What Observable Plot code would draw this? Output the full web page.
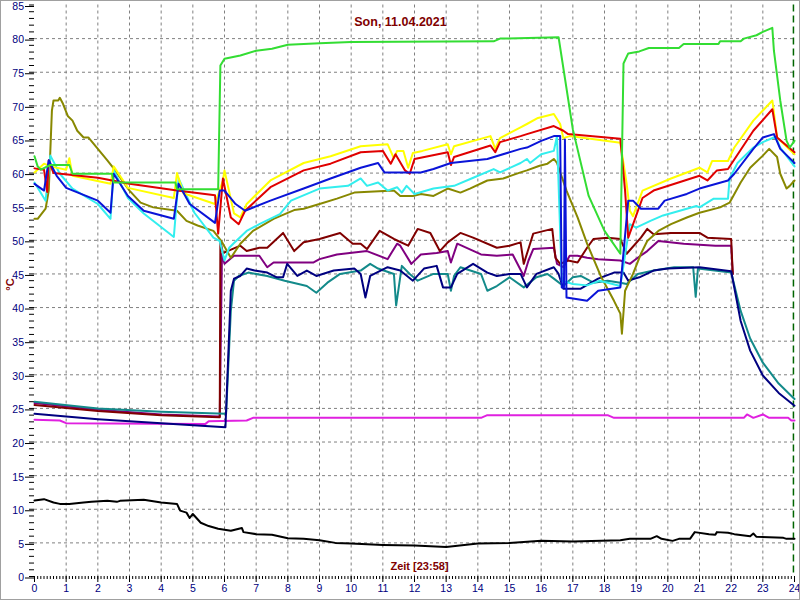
<!DOCTYPE html>
<html><head><meta charset="utf-8">
<script src="https://cdn.jsdelivr.net/npm/d3@7"></script>
<script src="https://cdn.jsdelivr.net/npm/@observablehq/plot@0.6"></script>
<style>
body{margin:0;background:#fff;}
#wrap{position:relative;width:800px;height:600px;overflow:hidden;background:#fff;}
#border{position:absolute;left:0;top:0;width:800px;height:600px;box-sizing:border-box;border:1px solid #a0a0a0;pointer-events:none;}
</style></head><body><div id="wrap"><div id="border"></div></div>
<script>
const titleText = "Son, 11.04.2021";
const xLabelText = "Zeit [23:58]";
const yLabelText = "°C";
const hourTicks = [0,1,2,3,4,5,6,7,8,9,10,11,12,13,14,15,16,17,18,19,20,21,22,23,24];
const tempTicks = [0,5,10,15,20,25,30,35,40,45,50,55,60,65,70,75,80,85];
const nowMarker = [23 + 58/60];

const green = [[0,62.5],[0.1,61],[0.2,60.5],[0.5,61.2],[1.1,61.2],[1.2,59.9],[2.45,59.9],[2.5,58.6],[4.45,58.6],[4.5,57.6],[5.8,57.6],[5.87,76],[6.0,77],[6.5,77.5],[7.0,78.2],[7.5,78.5],[8.0,79.1],[9.0,79.3],[10.0,79.5],[14.5,79.6],[14.7,80],[16.55,80.2],[17.0,66.5],[17.5,56.6],[18.0,51.4],[18.5,48],[18.6,76.3],[18.75,77.8],[19.1,78.1],[19.4,78.6],[20.35,78.6],[20.5,79.2],[21.6,79.2],[21.65,79.6],[22.3,79.6],[22.4,80],[22.8,80.5],[23.0,81],[23.3,81.6],[23.35,78.2],[23.55,70.8],[23.75,64.8],[23.85,63.8],[24,64.8]];
const yellow = [[0,60.1],[0.3,61.4],[0.5,61],[1.0,60.5],[1.1,62.2],[1.2,59.6],[2.4,58.4],[2.5,61],[2.95,57.8],[4.4,56.3],[4.5,60],[4.7,57],[5.7,55.4],[5.95,58.9],[6.0,60.4],[6.3,54],[6.5,53.4],[6.7,55.4],[7.45,58.9],[8.5,61.5],[9.35,62.5],[10.3,64],[11.15,64.3],[11.35,62.2],[11.45,63.3],[11.65,63.3],[11.8,60.8],[11.95,63],[12.25,63.3],[13.05,64.3],[13.15,62.8],[13.25,64],[14.4,65.5],[14.55,63.6],[14.7,65.2],[15.35,66.8],[15.55,67.3],[15.9,68.2],[16.4,68.8],[16.6,67.3],[16.7,65.2],[16.9,65.5],[18.5,64.5],[18.7,58.4],[18.8,54.4],[18.9,53.6],[19.2,57.4],[20.1,59.2],[21.0,60.8],[21.25,60.1],[21.4,61.8],[21.9,61.8],[22.1,63.8],[22.7,67.8],[23.3,70.8],[23.45,65.3],[24,62.8]];
const red = [[0,60.7],[0.3,60.5],[0.4,57.2],[0.45,61.9],[0.6,60],[2.0,59.3],[3.0,58.4],[4.5,57.4],[5.7,56.7],[5.8,51],[5.95,59.2],[6.2,53.4],[6.45,52.4],[6.65,54.4],[7.45,57.9],[8.5,60.4],[9.35,61.4],[10.3,63.1],[11.0,63.3],[11.25,61.4],[11.4,62.8],[11.7,60.4],[11.85,59.9],[12.0,62.1],[13.05,63.1],[13.15,61.2],[13.25,62.4],[14.4,64.1],[14.55,63.1],[14.7,64.6],[15.35,65.5],[15.55,65.8],[16.4,67],[16.7,66.3],[16.85,65.8],[18.5,65.1],[18.65,57.4],[18.75,50.4],[19.2,56.3],[19.55,57.4],[21.0,59.6],[21.25,58.9],[21.55,60.4],[21.9,60.6],[22.7,66.3],[23.3,69.5],[23.45,65.3],[24,63.1]];
const blue = [[0,58.4],[0.3,57.4],[0.45,61.9],[0.7,59.6],[1.0,57.8],[2.0,55.9],[2.4,54.1],[2.5,59.9],[2.95,56.6],[3.45,54.4],[4.4,53.2],[4.55,58.4],[4.9,55.4],[5.7,52.6],[5.85,57.4],[6.0,57.4],[6.35,55.4],[6.65,54.4],[7.45,55.9],[8.5,57.7],[9.35,59.2],[10.3,60.8],[10.85,61.5],[11.05,60.1],[12.2,60.1],[12.6,60.6],[13.15,61.5],[14.3,62.1],[15.35,63.6],[15.55,63.8],[16.0,64.8],[16.4,65.5],[16.6,65.5],[16.65,43],[16.72,43],[16.75,65],[16.8,41.5],[17.45,41],[17.8,42.5],[18.5,43],[18.75,55.9],[18.9,55.9],[19.15,54.7],[19.7,54.7],[19.9,55.9],[20.6,56.9],[21.0,57.7],[21.9,58.9],[22.1,59.9],[22.7,63.6],[23.0,65.3],[23.35,65.8],[23.55,63.6],[24,61.5]];
const cyan = [[0,58.6],[0.35,55.9],[0.5,62.6],[0.8,59.9],[1.2,57.7],[2.0,55.4],[2.4,53.2],[2.5,60.4],[2.95,56.3],[3.45,54],[4.4,50.5],[4.55,59.2],[5.05,54.1],[5.65,50.4],[5.85,49.9],[6.0,47],[6.15,48.9],[6.3,49.6],[6.7,51.4],[7.1,52.4],[7.75,53.9],[8.1,55.9],[9.0,57.7],[9.9,58.1],[10.3,59.2],[10.5,58.1],[10.85,58.6],[11.15,57.4],[11.45,57.9],[11.6,57.1],[11.75,58.1],[12.0,56.9],[12.6,57.7],[13.25,58.1],[13.8,59.2],[14.5,60.6],[14.7,60.1],[15.35,61.5],[15.55,62.1],[15.65,61.5],[16.0,62.8],[16.4,63.3],[16.5,65.5],[16.65,44],[17.0,43.5],[17.45,43.3],[17.85,44],[18.5,43.2],[18.8,52.4],[19.0,51.9],[19.45,52.9],[19.85,53.7],[20.6,54.7],[20.9,55.1],[21.0,54.9],[21.45,56.2],[21.9,56.2],[21.95,59.2],[22.2,61.5],[22.7,63.8],[23.0,64.6],[23.4,65.4],[23.55,63.8],[24,61]];
const olive = [[0,53.2],[0.1,53.2],[0.35,54.7],[0.45,57.4],[0.5,63.3],[0.55,69.3],[0.6,70.8],[0.75,70.8],[0.8,71.2],[0.9,70.3],[1.05,68.5],[1.2,67.8],[1.35,66.3],[1.55,65.3],[1.7,65.3],[2.0,63.6],[2.3,61.9],[2.5,60.7],[3.0,57.4],[3.35,55.6],[3.75,54.9],[4.5,54.4],[4.8,52.9],[5.15,52.2],[5.65,51.4],[5.9,49.9],[6.2,47.4],[6.5,49.5],[6.9,51.4],[7.55,53.2],[8.2,54.5],[8.5,54.7],[9.0,55.4],[9.55,56.2],[10.1,57.1],[11.35,57.4],[11.55,56.6],[11.95,56.6],[12.2,56.9],[12.6,56.6],[13.05,57.7],[13.45,57.1],[13.75,57.7],[14.3,58.9],[14.8,59.2],[15.35,60.1],[15.55,60.4],[15.95,61.1],[16.2,61.4],[16.4,62.1],[16.5,61.5],[16.8,57.4],[17.15,53.4],[17.45,49.5],[17.9,44.5],[18.3,41],[18.5,39.1],[18.55,36.1],[18.65,42.5],[18.9,45],[19.15,48],[19.35,49.9],[19.7,51.4],[20.1,52.4],[20.6,53.4],[21.0,54.1],[21.65,54.9],[21.95,55.6],[22.3,58.6],[22.6,60.8],[23.0,62.6],[23.2,63.6],[23.45,62.4],[23.55,59.9],[23.75,57.7],[23.85,58.1],[24,58.9]];
const maroon = [[0,25.5],[2,24.6],[4,24],[5.85,23.7],[5.87,49.9],[5.95,48.1],[6.5,49.2],[6.7,48.4],[7.1,48.9],[7.35,48.9],[7.85,51.1],[8.2,48.4],[8.5,49.7],[9.0,50.2],[9.65,51.1],[10.05,49.5],[10.3,49.5],[10.5,48.7],[10.9,51.4],[11.35,50.2],[11.8,49.2],[12.1,51.7],[12.5,51.1],[12.8,48.4],[13.05,49.7],[13.45,51.1],[13.85,50.4],[14.6,48.9],[15.0,49.2],[15.35,49.7],[15.45,46.5],[15.65,49.5],[15.75,51],[16.35,51.7],[16.45,47.4],[16.6,46.5],[16.85,47],[17.15,46.7],[17.45,48.9],[17.65,50.2],[18.1,50.4],[18.5,50.2],[18.7,48],[19.15,50.4],[19.35,51.7],[19.55,50.9],[20.1,51.1],[21.0,51.1],[21.25,50.4],[22.0,50.2],[22.05,45]];
const purple = [[0,25.8],[2,24.8],[4,24.1],[5.85,23.8],[5.92,48],[6.0,46.5],[6.3,47.7],[7.1,47.7],[7.35,46],[7.55,46.7],[8.8,46.7],[9.0,47.2],[9.55,47.9],[10.5,48.4],[11.15,47.2],[11.45,49.5],[11.55,49.2],[11.9,46.5],[12.2,47.9],[12.7,48.1],[13.05,48.4],[13.15,46.7],[13.35,49.5],[14.1,47.9],[14.6,47.7],[15.1,47.9],[15.45,44.7],[15.6,47],[15.75,48.7],[16.4,48.9],[16.5,46.5],[16.7,46],[16.9,47.7],[17.15,47.7],[17.45,47.4],[17.8,47.2],[18.5,47],[18.8,46.5],[19.05,47.4],[19.35,48.4],[19.7,49.9],[20.5,49.5],[21.5,49.2],[22.0,49.2],[22.05,45]];
const navy = [[0,24.2],[2,23.4],[4,22.8],[6.03,22.2],[6.2,42.5],[6.3,44.3],[6.5,44.7],[6.7,45.8],[6.95,45.5],[7.35,45.2],[7.65,44.5],[7.85,44.5],[7.98,46.5],[8.3,44.7],[8.6,45.5],[8.9,44.7],[9.45,45.5],[10.1,45.8],[10.3,45],[10.45,41.5],[10.6,44.7],[11.15,46],[11.55,45.5],[11.95,44],[12.3,45.8],[12.7,46.2],[12.9,43],[13.15,43],[13.35,45],[13.85,46.5],[14.3,45.2],[14.6,44.7],[15.0,45],[15.35,45],[15.55,43],[15.85,45],[16.4,46],[16.55,45],[16.7,42.8],[17.25,42.8],[17.8,44.3],[18.3,45.2],[18.6,45.2],[18.75,44],[19.1,44.5],[19.55,45.5],[20.0,45.8],[21.0,46],[22.0,45.4],[22.3,38],[22.6,33.6],[23.0,29.9],[23.5,27.3],[24,25.4]];
const teal = [[0,26],[2,25],[4,24.5],[6.05,24.2],[6.2,39.5],[6.3,44],[6.45,44.7],[6.75,45.2],[7.35,44.7],[7.9,44],[8.6,43.2],[8.9,42.2],[9.25,43.7],[9.65,45],[10.3,45.5],[10.6,46.5],[10.85,45.8],[11.35,45],[11.42,40.3],[11.6,46.2],[11.85,45],[12.1,44],[12.6,45],[13.05,45],[13.15,42.5],[13.25,44.7],[13.45,46],[14.1,45],[14.3,42.5],[14.6,43.2],[15.0,44.5],[15.45,43],[15.85,44.5],[16.2,45],[16.4,44.3],[16.7,43.2],[17.0,44.5],[17.25,44.7],[17.65,43.7],[18.1,44],[18.5,43.7],[18.7,43.5],[19.05,45],[19.55,45.5],[20.2,46],[20.8,46],[20.88,41.6],[20.95,45.8],[22.0,45.2],[22.3,39.5],[22.6,35.4],[23.0,31.8],[23.5,28.7],[24,26.4]];
const magenta = [[0,23.3],[0.8,23.2],[1.0,22.8],[5.4,22.7],[5.5,23.1],[6.7,23.2],[6.9,23.6],[14.1,23.6],[14.3,24.0],[18.1,24.0],[18.3,23.6],[22.4,23.6],[22.5,24.1],[22.7,23.6],[23.0,24.1],[23.2,23.6],[23.8,23.6],[23.9,23.2],[24,23.2]];
const black = [[0,11.3],[0.3,11.5],[0.6,11],[0.8,10.8],[1.1,10.8],[1.55,11],[1.8,11.1],[2.3,11.25],[2.6,11.1],[2.7,11.25],[3.45,11.4],[4.0,11],[4.5,10.8],[4.6,9.8],[4.8,9.5],[4.9,8.7],[5.0,9.3],[5.25,8],[5.5,7.5],[5.8,7.1],[6.2,6.8],[6.55,7.2],[6.6,6.6],[7.0,6.3],[7.5,6.2],[8.0,5.7],[8.5,5.6],[9.0,5.4],[9.5,5],[10.0,4.9],[11.0,4.7],[12.0,4.6],[13.0,4.4],[14.0,4.9],[15.0,5],[16.0,5.3],[17.0,5.2],[17.9,5.3],[18.5,5.4],[18.8,5.6],[19.45,5.6],[19.65,6],[19.8,5.6],[20.15,5.3],[20.35,5.6],[20.7,5.6],[20.85,6.6],[21.3,6.3],[21.5,6.2],[21.55,6.6],[21.9,6.5],[22.1,6.3],[22.6,6],[22.7,6.4],[22.8,5.9],[23.65,5.75],[23.75,5.6],[24,5.6]];

const seriesList = [
  {data: magenta, color: "#e020e0"},
  {data: black, color: "#000000"},
  {data: purple, color: "#800080"},
  {data: maroon, color: "#800000"},
  {data: teal, color: "#138a8a"},
  {data: navy, color: "#000080"},
  {data: olive, color: "#888800"},
  {data: cyan, color: "#33eeee"},
  {data: yellow, color: "#ffff00"},
  {data: red, color: "#e00000"},
  {data: blue, color: "#0a14d8"},
  {data: green, color: "#33dd33"}
];

const font = "'Liberation Sans', Arial, sans-serif";
const chart = Plot.plot({
  width: 800, height: 600,
  marginLeft: 34, marginRight: 6, marginTop: 4.5, marginBottom: 24,
  style: {background: "white", fontFamily: font, overflow: "visible"},
  x: {domain: [0, 24], label: null},
  y: {domain: [0, 85], label: null},
  marks: [
    Plot.gridX(hourTicks.slice(1, -1), {stroke: "#808080", strokeOpacity: 1, strokeDasharray: "3,3"}),
    Plot.gridY(tempTicks.slice(1, -1), {stroke: "#808080", strokeOpacity: 1, strokeDasharray: "3,3"}),
    Plot.axisY(d3.range(0, 86, 1), {tickSize: 5, text: null, stroke: "#000", label: null}),
    Plot.axisY(tempTicks, {tickSize: 9, tickPadding: 1.5, stroke: "#000", fill: "#000080", fontSize: 10.5, dy: 1.5, label: null}),
    Plot.axisX(d3.range(0, 240.5, 1).map(d => d / 10), {tickSize: 3, text: null, stroke: "#000", label: null}),
    Plot.axisX(hourTicks, {tickSize: 6, tickPadding: 2.5, stroke: "#000", fill: "#000080", fontSize: 10.5, label: null}),
    Plot.ruleX(nowMarker, {stroke: "#006400", strokeWidth: 1.5, strokeDasharray: "7,4"}),
    ...seriesList.map(s => Plot.line(s.data, {x: d => d[0], y: d => d[1], stroke: s.color, strokeWidth: 2})),
    Plot.text([titleText], {text: d => d, frameAnchor: "top", dx: -14, dy: 12.5, fill: "#800000", fontWeight: "bold", fontSize: 12.5}),
    Plot.text([xLabelText], {text: d => d, frameAnchor: "bottom", dx: 5, dy: -7, fill: "#800000", fontWeight: "bold", fontSize: 11}),
    Plot.text([yLabelText], {text: d => d, frameAnchor: "left", dx: -24, dy: 0, rotate: -90, fill: "#800000", fontWeight: "bold", fontSize: 11})
  ]
});
document.getElementById("wrap").insertBefore(chart, document.getElementById("border"));
</script>
</body></html>
